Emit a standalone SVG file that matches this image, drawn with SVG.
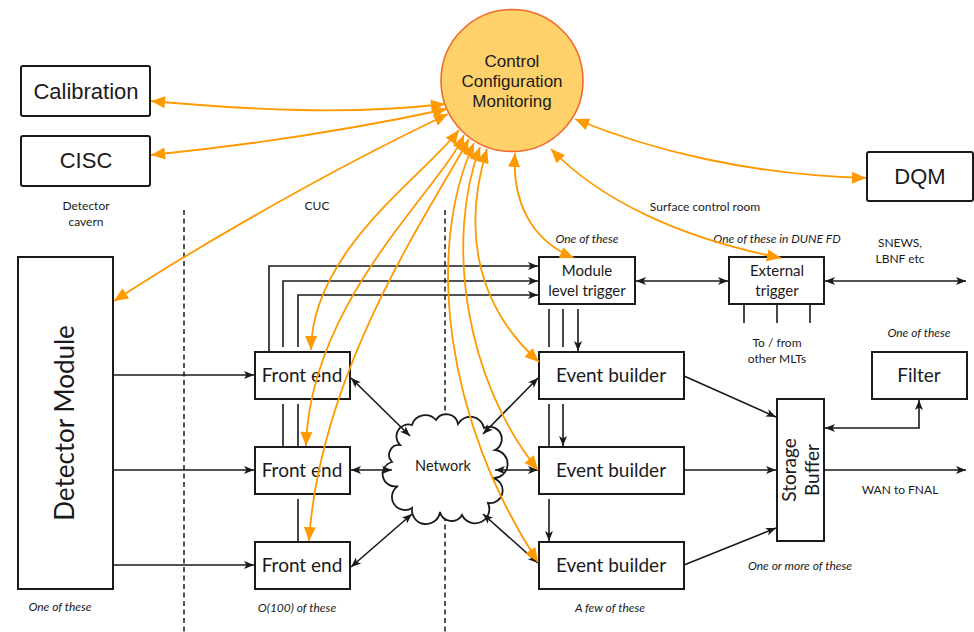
<svg xmlns="http://www.w3.org/2000/svg" width="974" height="632" viewBox="0 0 974 632">
  <style>
    .box { fill: #fff; stroke: #1a1a1a; stroke-width: 2; }
    .rbox { fill: #fff; stroke: #1a1a1a; stroke-width: 2; }
    .hel { font-family: "Liberation Sans", Arial, sans-serif; fill: #1a1a1a; text-anchor: middle; }
    .lbl { font-family: Lato, "Open Sans", sans-serif; fill: #1a1a1a; text-anchor: middle; }
    .big { font-size: 19px; }
    .mid { font-size: 15px; }
    .note { font-size: 12px; }
    .it { font-style: italic; }
    .dash { stroke: #1a1a1a; stroke-width: 1.5; stroke-dasharray: 5 3.5; fill: none; }
    .conn { fill: none; stroke: #1a1a1a; stroke-width: 1.6; }
    .arr { marker-end: url(#ah); }
    .arr2 { marker-start: url(#ah); marker-end: url(#ah); }
    .ctl { fill: none; stroke: #FF9900; stroke-width: 1.8; marker-start: url(#oh); marker-end: url(#oh); }
  </style>
  <defs>
    <marker id="ah" markerUnits="userSpaceOnUse" markerWidth="11" markerHeight="9" viewBox="0 0 11 9" refX="10" refY="4" orient="auto-start-reverse" overflow="visible">
      <path d="M0,0 L10,4 L0,8 L2.5,4 z" fill="#1a1a1a"/>
    </marker>
    <marker id="oh" markerUnits="userSpaceOnUse" markerWidth="15" markerHeight="12" viewBox="0 0 15 12" refX="14" refY="6" orient="auto-start-reverse" overflow="visible">
      <path d="M0,0 L14,6 L0,12 z" fill="#FF9900"/>
    </marker>
  </defs>

  <rect width="974" height="632" fill="#fff"/>

  <!-- location dividers -->
  <g id="dividers">
    <line class="dash" x1="184" y1="210" x2="184" y2="632"/>
    <line class="dash" x1="445" y1="210" x2="445" y2="632"/>
  </g>

  <!-- location and multiplicity notes -->
  <g id="notes">
    <text class="lbl note" x="86" y="210">Detector</text>
    <text class="lbl note" x="86" y="226">cavern</text>
    <text class="lbl note" x="317" y="210">CUC</text>
    <text class="lbl note" x="705" y="211">Surface control room</text>
    <text class="lbl note it" x="587" y="243">One of these</text>
    <text class="lbl note it" x="777" y="243">One of these in DUNE FD</text>
    <text class="lbl note" x="900" y="247">SNEWS,</text>
    <text class="lbl note" x="900" y="263">LBNF etc</text>
    <text class="lbl note" x="777" y="347">To / from</text>
    <text class="lbl note" x="777" y="363">other MLTs</text>
    <text class="lbl note it" x="919" y="337">One of these</text>
    <text class="lbl note" x="900" y="494">WAN to FNAL</text>
    <text class="lbl note it" x="800" y="570">One or more of these</text>
    <text class="lbl note it" x="60" y="611">One of these</text>
    <text class="lbl note it" x="297" y="612">O(100) of these</text>
    <text class="lbl note it" x="610" y="612">A few of these</text>
  </g>

  <g id="ccm">
    <circle cx="512" cy="80.5" r="71" fill="#FED16A" stroke="#F26A2A" stroke-width="1.6"/>
    <text class="hel" font-size="17" x="512" y="67">Control</text>
    <text class="hel" font-size="17" x="512" y="87">Configuration</text>
    <text class="hel" font-size="17" x="512" y="107">Monitoring</text>
  </g>
  <g id="calibration">
    <rect class="rbox" x="21" y="66" width="129" height="50" rx="2"/>
    <text class="hel" font-size="22" x="86" y="99">Calibration</text>
  </g>
  <g id="cisc">
    <rect class="rbox" x="21" y="136" width="129" height="50" rx="2"/>
    <text class="hel" font-size="22" x="86" y="168">CISC</text>
  </g>
  <g id="dqm">
    <rect class="rbox" x="867" y="152" width="106" height="49" rx="2"/>
    <text class="hel" font-size="22" x="920" y="184">DQM</text>
  </g>
  <g id="detector-module">
    <rect class="box" x="18" y="257" width="95" height="332"/>
    <text class="lbl" font-size="26" transform="translate(74,423) rotate(-90)">Detector Module</text>
  </g>
  <g id="front-end-1">
    <rect class="box" x="255" y="352" width="95" height="47"/>
    <text class="lbl big" x="302" y="382">Front end</text>
  </g>
  <g id="front-end-2">
    <rect class="box" x="255" y="447" width="95" height="47"/>
    <text class="lbl big" x="302" y="477">Front end</text>
  </g>
  <g id="front-end-3">
    <rect class="box" x="255" y="542" width="95" height="47"/>
    <text class="lbl big" x="302" y="572">Front end</text>
  </g>
  <g id="network">
    <path d="M400 445 A12 12 0 0 1 412 425 A14 14 0 0 1 436 420 A12 12 0 0 1 458 424 A14 14 0 0 1 484 428 A12 12 0 0 1 495 450 A13 13 0 0 1 492 478 A12 12 0 0 1 488 503 A14 14 0 0 1 462 515 A12 12 0 0 1 440 512 A14 14 0 0 1 412 508 A12 12 0 0 1 398 486 A12 12 0 0 1 392 462 A10 10 0 0 1 400 445 Z" fill="#fff" stroke="#1a1a1a" stroke-width="1.8"/>
    <text class="lbl" font-size="14.5" x="443" y="471">Network</text>
  </g>
  <g id="module-level-trigger">
    <rect class="box" x="539" y="257" width="96" height="47"/>
    <text class="lbl mid" x="587" y="276">Module</text>
    <text class="lbl mid" x="587" y="296">level trigger</text>
  </g>
  <g id="external-trigger">
    <rect class="box" x="729" y="257" width="95" height="47"/>
    <text class="lbl mid" x="777" y="276">External</text>
    <text class="lbl mid" x="777" y="296">trigger</text>
  </g>
  <g id="event-builder-1">
    <rect class="box" x="539" y="352" width="145" height="47"/>
    <text class="lbl big" x="611" y="382">Event builder</text>
  </g>
  <g id="event-builder-2">
    <rect class="box" x="539" y="447" width="145" height="47"/>
    <text class="lbl big" x="611" y="477">Event builder</text>
  </g>
  <g id="event-builder-3">
    <rect class="box" x="539" y="542" width="145" height="47"/>
    <text class="lbl big" x="611" y="572">Event builder</text>
  </g>
  <g id="storage-buffer">
    <rect class="box" x="777" y="399" width="47" height="142"/>
    <text class="lbl big" transform="translate(796,470) rotate(-90)">Storage</text>
    <text class="lbl big" transform="translate(819,470) rotate(-90)">Buffer</text>
  </g>
  <g id="filter">
    <rect class="box" x="872" y="352" width="95" height="47"/>
    <text class="lbl big" x="919" y="382">Filter</text>
  </g>

  <g id="connectors">
    <g id="data-flow">
      <path class="conn arr" d="M113 375 H254"/>
      <path class="conn arr" d="M113 470 H254"/>
      <path class="conn arr" d="M113 565 H254"/>
      <!-- trigger primitives up to the MLT -->
      <path class="conn arr" d="M269 352 V266 H538"/>
      <path class="conn arr" d="M283 347 V281 H538"/>
      <path class="conn arr" d="M298 347 V295 H538"/>
      <path class="conn" d="M283 404 V447"/>
      <path class="conn" d="M298 404 V447"/>
      <path class="conn" d="M298 499 V542"/>
      <!-- trigger decisions down to the event builders -->
      <path class="conn" d="M549 309 V347"/>
      <path class="conn" d="M563 309 V347"/>
      <path class="conn arr" d="M578 309 V351"/>
      <path class="conn" d="M549 404 V447"/>
      <path class="conn arr" d="M563 404 V446"/>
      <path class="conn arr" d="M549 499 V541"/>
      <path class="conn arr2" d="M636 281 H728"/>
      <path class="conn arr2" d="M825 281 H966"/>
      <path class="conn" d="M744 304 V323 M777 304 V323 M810 304 V323"/>
      <!-- front ends and event builders through the network -->
      <path class="conn arr2" d="M351 378 L410 436"/>
      <path class="conn arr2" d="M351 470 H392"/>
      <path class="conn arr2" d="M351 567 L412 514"/>
      <path class="conn arr2" d="M538 378 L483 434"/>
      <path class="conn arr2" d="M495 470 H538"/>
      <path class="conn arr2" d="M538 563 L483 514"/>
      <!-- event builders to storage -->
      <path class="conn arr" d="M684 376 L776 417"/>
      <path class="conn arr" d="M684 470 H776"/>
      <path class="conn arr" d="M684 565 L776 528"/>
      <path class="conn arr2" d="M825 428 H919 V400"/>
      <path class="conn arr" d="M824 470 H966"/>
    </g>
    <g id="control-links">
      <path class="ctl" d="M445 104 C350 115, 250 110, 151 101"/>
      <path class="ctl" d="M447 109 C350 130, 250 145, 151 155"/>
      <path class="ctl" d="M448 114 C330 170, 200 245, 114 301"/>
      <path class="ctl" d="M459 130 C425 175, 312 250, 311 350"/>
      <path class="ctl" d="M464 135 C440 190, 310 300, 306 446"/>
      <path class="ctl" d="M469 139 C430 210, 320 370, 309 541"/>
      <path class="ctl" d="M474 143 C425 250, 445 420, 538 562"/>
      <path class="ctl" d="M480 147 C445 240, 465 380, 538 470"/>
      <path class="ctl" d="M487 149 C465 220, 470 300, 539 362"/>
      <path class="ctl" d="M515 153 C512 200, 530 240, 574 258"/>
      <path class="ctl" d="M551 149 C600 200, 680 238, 781 258"/>
      <path class="ctl" d="M575 119 C650 150, 750 175, 866 178"/>
    </g>
  </g>
</svg>
